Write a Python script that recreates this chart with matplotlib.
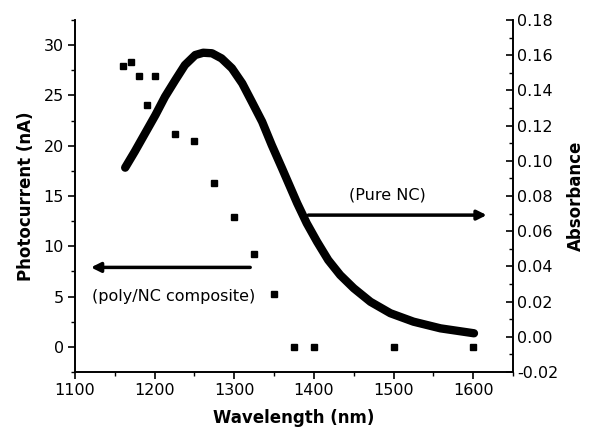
import matplotlib
matplotlib.use("Agg")
import matplotlib.pyplot as plt

# Photocurrent (scatter, left axis)
pc_wavelength = [1160, 1170, 1180, 1190, 1200, 1225, 1250, 1275, 1300, 1325, 1350, 1375, 1400, 1500, 1600]
pc_current = [27.9, 28.3, 26.9, 24.0, 26.9, 21.2, 20.5, 16.3, 12.9, 9.2, 5.3, 0.0, 0.0, 0.0, 0.0]

# Absorbance (line, right axis)
abs_wavelength = [1163, 1175, 1188, 1201, 1213, 1226, 1238, 1251, 1261, 1272, 1284, 1297,
                  1310, 1322, 1335, 1347, 1360, 1379, 1391, 1404, 1418, 1433, 1450,
                  1471, 1496, 1525, 1559, 1601]
abs_values = [0.0961, 0.1052, 0.1156, 0.1260, 0.1364, 0.1459, 0.1544, 0.1601, 0.1614,
              0.1611, 0.1582, 0.1526, 0.1440, 0.1336, 0.1222, 0.1090, 0.0957, 0.0759,
              0.0645, 0.0540, 0.0436, 0.0351, 0.0276, 0.0199, 0.0134, 0.0086, 0.0048, 0.0020]

x_ticks = [1100, 1200, 1300, 1400, 1500, 1600]
left_ticks = [0, 5, 10, 15, 20, 25, 30]
right_ticks = [-0.02, 0.00, 0.02, 0.04, 0.06, 0.08, 0.10, 0.12, 0.14, 0.16, 0.18]

plt.rcParams['font.family'] = ['DejaVu Sans']

fig = plt.figure(figsize=(5.9, 4.36), dpi=100)
ax = fig.add_axes([75/590, 1-372/436, (513-75)/590, (372-20)/436])
ax2 = ax.twinx()

ax.plot(pc_wavelength, pc_current, linestyle='none', marker='s', markersize=4.2,
        color='black', zorder=3)
ax2.plot(abs_wavelength, abs_values, color='black', linewidth=6, solid_capstyle='round',
         solid_joinstyle='round')

ax.set_xlim(1100, 1650)
ax.set_ylim(-2.5, 32.5)
ax2.set_ylim(-0.02, 0.18)

ax.set_xticks(x_ticks)
ax.set_xticks([1150, 1250, 1350, 1450, 1550, 1650], minor=True)
ax.set_yticks(left_ticks)
ax.set_yticks([-2.5, 2.5, 7.5, 12.5, 17.5, 22.5, 27.5, 32.5], minor=True)
ax2.set_yticks(right_ticks)
ax2.set_yticklabels(['%.2f' % v for v in right_ticks])
ax2.set_yticks([-0.01 + 0.02 * i for i in range(10)], minor=True)

for a in (ax, ax2):
    a.spines['top'].set_visible(False)
    for s in a.spines.values():
        s.set_linewidth(1.2)

ax.tick_params(axis='both', which='major', direction='out', length=5, width=1.2,
               labelsize=11.5, pad=3)
ax.tick_params(axis='both', which='minor', direction='out', length=3, width=1.0)
ax2.tick_params(axis='y', which='major', direction='in', length=5, width=1.2,
                labelsize=11.5, pad=3)
ax2.tick_params(axis='y', which='minor', direction='in', length=3, width=1.0)

ax.set_xlabel('Wavelength (nm)', fontsize=12, fontweight='bold', labelpad=8)
ax.set_ylabel('Photocurrent (nA)', fontsize=12, fontweight='bold', labelpad=6)
ax2.set_ylabel('Absorbance', fontsize=12, fontweight='bold', labelpad=6)

# arrows
ax.annotate('', xy=(1617, 13.1), xytext=(1393, 13.1),
            arrowprops=dict(arrowstyle='-|>', lw=2.5, color='black', mutation_scale=14,
                            shrinkA=0, shrinkB=0))
ax.text(1492, 15.1, '(Pure NC)', ha='center', va='center', fontsize=11.5)
ax.annotate('', xy=(1120, 7.9), xytext=(1320, 7.9),
            arrowprops=dict(arrowstyle='-|>', lw=2.5, color='black', mutation_scale=14,
                            shrinkA=0, shrinkB=0))
ax.text(1224, 5.0, '(poly/NC composite)', ha='center', va='center', fontsize=11.5)

fig.savefig('out.png', dpi=100)
